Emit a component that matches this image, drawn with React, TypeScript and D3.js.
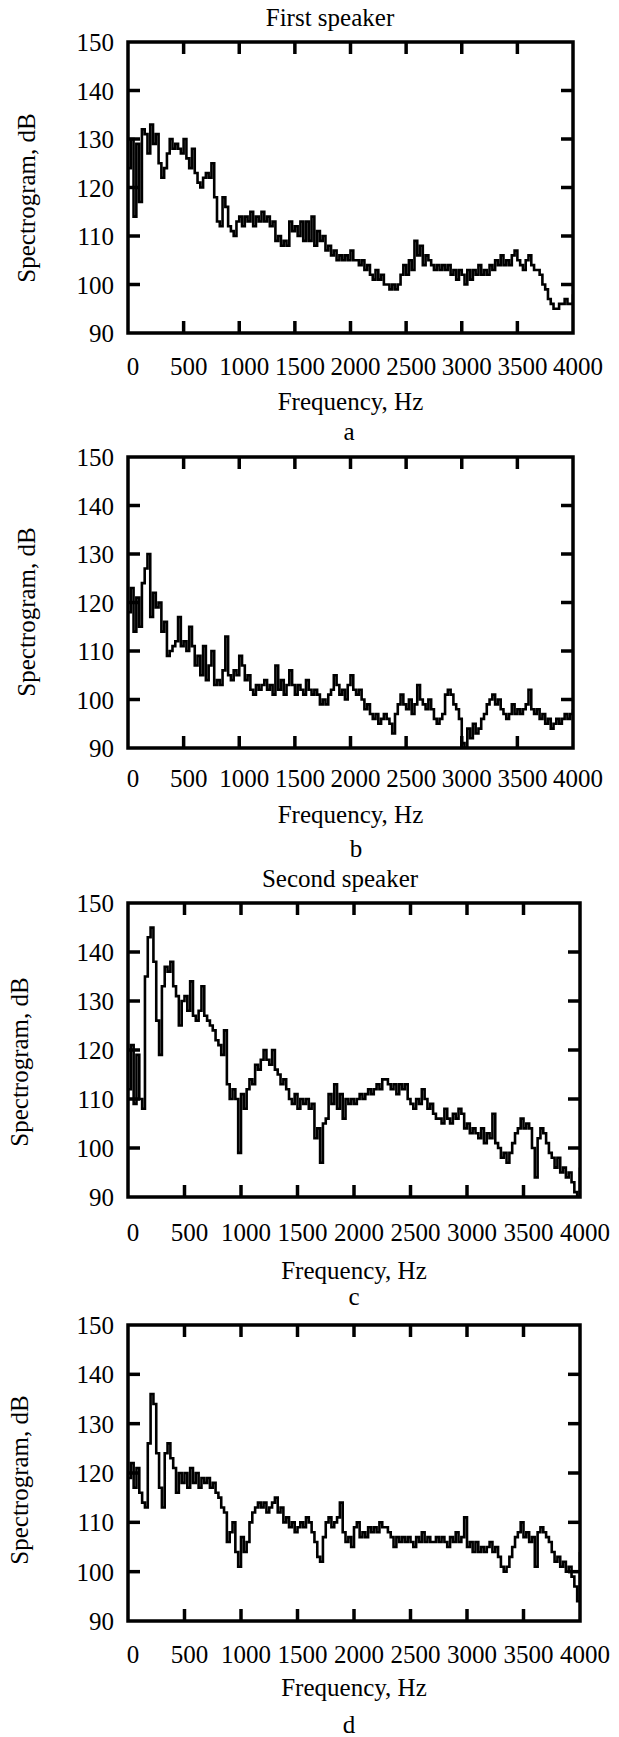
import React from "react";
import * as d3 from "d3";

// ---------- data ----------
const FREQ_STEP = 25; // Hz between successive spectrum samples (0..4000)
const X_TICKS = [0, 500, 1000, 1500, 2000, 2500, 3000, 3500, 4000];
const Y_TICKS = [90, 100, 110, 120, 130, 140, 150];
const X_LABEL = "Frequency, Hz";
const Y_LABEL = "Spectrogram, dB";
const SPEAKER_TITLES = ["First speaker", "Second speaker"];
const PANEL_LETTERS = ["a", "b", "c", "d"];

// panel a (first speaker)
const SERIES_A = [
  124, 130, 114, 129, 117, 132, 131, 127,
  133, 129, 131, 125, 122, 124, 127, 130,
  128, 129, 128, 127, 130, 126, 124, 128,
  123, 121, 120, 122, 123, 122, 125, 118,
  113, 112, 118, 116, 112, 111, 110, 113,
  114, 112, 114, 113, 115, 112, 114, 113,
  115, 113, 114, 112, 113, 109, 110, 108,
  109, 108, 113, 111, 112, 110, 113, 109,
  113, 109, 114, 108, 111, 109, 110, 107,
  108, 106, 107, 105, 106, 105, 106, 105,
  107, 105, 105, 104, 105, 103, 104, 102,
  101, 103, 101, 102, 100, 100, 99, 100,
  99, 100, 102, 104, 102, 105, 103, 109,
  106, 108, 104, 106, 105, 104, 103, 104,
  103, 104, 103, 104, 102, 103, 101, 103,
  102, 100, 103, 101, 103, 102, 104, 102,
  103, 102, 104, 103, 105, 104, 106, 104,
  105, 104, 106, 107, 105, 104, 103, 105,
  106, 104, 103, 103, 102, 100, 99, 97,
  96, 95, 95, 96, 96, 97, 96, 96,
  98,
];

// panel b (first speaker)
const SERIES_B = [
  118, 123, 114, 121, 115, 124, 127, 130,
  117, 122, 119, 120, 114, 116, 109, 110,
  111, 112, 117, 111, 112, 110, 115, 111,
  107, 109, 105, 111, 104, 107, 110, 103,
  104, 103, 106, 113, 105, 104, 106, 105,
  109, 107, 104, 105, 102, 101, 103, 102,
  103, 104, 102, 103, 101, 107, 102, 104,
  101, 103, 106, 103, 101, 103, 102, 101,
  104, 102, 101, 102, 101, 99, 100, 99,
  101, 102, 105, 103, 101, 102, 100, 103,
  105, 102, 101, 102, 100, 98, 99, 97,
  96, 97, 95, 96, 97, 96, 95, 93,
  97, 99, 101, 99, 98, 100, 97, 99,
  103, 100, 99, 98, 100, 98, 96, 95,
  96, 97, 101, 102, 101, 99, 98, 96,
  91, 90, 94, 92, 95, 93, 94, 96,
  97, 99, 100, 101, 99, 100, 98, 97,
  96, 97, 99, 97, 98, 97, 98, 99,
  102, 98, 97, 98, 96, 97, 95, 96,
  94, 95, 96, 95, 96, 97, 96, 97,
  98,
];

// panel c (second speaker)
const SERIES_C = [
  112, 121, 109, 119, 110, 108, 135, 143,
  145, 138, 126, 119, 133, 137, 136, 138,
  133, 131, 125, 130, 131, 128, 134, 127,
  126, 128, 133, 127, 126, 125, 124, 122,
  121, 119, 124, 113, 110, 112, 110, 99,
  111, 108, 112, 114, 113, 117, 116, 118,
  120, 118, 117, 120, 116, 115, 113, 114,
  112, 110, 109, 111, 108, 110, 109, 110,
  108, 109, 102, 104, 97, 105, 106, 111,
  109, 113, 108, 111, 106, 110, 109, 110,
  109, 110, 111, 110, 111, 112, 111, 112,
  113, 112, 114, 114, 113, 112, 113, 111,
  113, 112, 113, 110, 109, 108, 110, 109,
  112, 110, 108, 109, 107, 106, 106, 105,
  108, 106, 105, 107, 106, 108, 107, 104,
  105, 103, 104, 103, 102, 104, 101, 103,
  102, 107, 101, 100, 98, 99, 97, 99,
  101, 103, 104, 106, 104, 105, 104, 100,
  94, 102, 104, 103, 101, 99, 98, 96,
  98, 95, 96, 94, 95, 93, 91, 90,
  96,
];

// panel d (second speaker)
const SERIES_D = [
  119, 122, 117, 121, 116, 114, 113, 126,
  136, 134, 124, 117, 113, 124, 126, 123,
  121, 116, 120, 118, 120, 117, 121, 118,
  120, 117, 119, 118, 119, 117, 118, 116,
  115, 113, 112, 106, 108, 110, 104, 101,
  107, 104, 106, 110, 112, 113, 114, 113,
  114, 112, 113, 114, 115, 112, 113, 110,
  111, 109, 110, 108, 109, 110, 109, 111,
  110, 108, 106, 103, 102, 107, 110, 111,
  109, 110, 111, 114, 108, 106, 107, 105,
  109, 110, 107, 108, 107, 109, 108, 109,
  108, 110, 109, 109, 108, 107, 105, 107,
  106, 107, 106, 107, 106, 105, 107, 106,
  108, 106, 107, 106, 106, 107, 106, 107,
  106, 105, 107, 106, 108, 106, 107, 111,
  105, 106, 104, 106, 104, 105, 104, 105,
  106, 104, 105, 103, 101, 100, 101, 103,
  105, 107, 108, 110, 107, 108, 106, 107,
  101, 108, 109, 108, 107, 106, 104, 102,
  103, 101, 102, 100, 101, 99, 97, 94,
  104,
];

// ---------- layout ----------
type PanelSpec = {
  id: string;
  letter: string;
  title?: string;
  data: number[];
  x0: number; x1: number; y0: number; y1: number;
  titleX?: number; titleY?: number;
  tickY: number; xlabY: number;
  letterX: number; letterY: number;
  ylabX: number; ylabY: number;
};

const PANELS: PanelSpec[] = [
  { id: "a", letter: PANEL_LETTERS[0], title: SPEAKER_TITLES[0], data: SERIES_A,
    x0: 128, x1: 573, y0: 42, y1: 333, titleX: 330, titleY: 26,
    tickY: 375, xlabY: 410, letterX: 349, letterY: 440, ylabX: 35, ylabY: 198 },
  { id: "b", letter: PANEL_LETTERS[1], data: SERIES_B,
    x0: 128, x1: 573, y0: 457, y1: 748,
    tickY: 787, xlabY: 823, letterX: 356, letterY: 857, ylabX: 35, ylabY: 612 },
  { id: "c", letter: PANEL_LETTERS[2], title: SPEAKER_TITLES[1], data: SERIES_C,
    x0: 128, x1: 580, y0: 903, y1: 1197, titleX: 340, titleY: 887,
    tickY: 1241, xlabY: 1279, letterX: 354, letterY: 1305, ylabX: 28, ylabY: 1062 },
  { id: "d", letter: PANEL_LETTERS[3], data: SERIES_D,
    x0: 128, x1: 580, y0: 1325, y1: 1621,
    tickY: 1663, xlabY: 1696, letterX: 349, letterY: 1733, ylabX: 28, ylabY: 1480 },
];

const FONT = "Liberation Serif";
const FS = 25;
const TICK = 12;
const FRAME_W = 3.5;

function Panel({ p }: { p: PanelSpec }) {
  const x = d3.scaleLinear().domain([0, 4000]).range([p.x0, p.x1]);
  const y = d3.scaleLinear().domain([90, 150]).range([p.y1, p.y0]);
  const line = d3
    .line<number>()
    .x((_, i) => x(i * FREQ_STEP))
    .y((d) => y(d))
    .curve(d3.curveStepAfter);
  const clipId = `clip-${p.id}`;
  const innerX = X_TICKS.filter((t) => t > 0 && t < 4000);
  const innerY = Y_TICKS.filter((t) => t > 90 && t < 150);
  const cx = (p.x0 + p.x1) / 2;
  const txt = { fontFamily: FONT, fontSize: FS } as React.CSSProperties;
  return (
    <g>
      <defs>
        <clipPath id={clipId}>
          <rect x={p.x0} y={p.y0} width={p.x1 - p.x0} height={p.y1 - p.y0} />
        </clipPath>
      </defs>
      {p.title && (
        <text x={p.titleX} y={p.titleY} textAnchor="middle" style={txt}>
          {p.title}
        </text>
      )}
      <path
        d={line(p.data) || ""}
        fill="none"
        stroke="#000"
        strokeWidth={2.6}
        strokeLinejoin="miter"
        clipPath={`url(#${clipId})`}
      />
      {innerX.map((t) => (
        <g key={`xt${t}`} stroke="#000" strokeWidth={3.5}>
          <line x1={x(t)} x2={x(t)} y1={p.y1} y2={p.y1 - TICK} />
          <line x1={x(t)} x2={x(t)} y1={p.y0} y2={p.y0 + TICK} />
        </g>
      ))}
      {innerY.map((t) => (
        <g key={`yt${t}`} stroke="#000" strokeWidth={3.5}>
          <line x1={p.x0} x2={p.x0 + TICK} y1={y(t)} y2={y(t)} />
          <line x1={p.x1} x2={p.x1 - TICK} y1={y(t)} y2={y(t)} />
        </g>
      ))}
      <rect
        x={p.x0}
        y={p.y0}
        width={p.x1 - p.x0}
        height={p.y1 - p.y0}
        fill="none"
        stroke="#000"
        strokeWidth={FRAME_W}
      />
      {X_TICKS.map((t) => (
        <text key={`xl${t}`} x={x(t) + 5} y={p.tickY} textAnchor="middle" style={txt}>
          {t}
        </text>
      ))}
      {Y_TICKS.map((t) => (
        <text key={`yl${t}`} x={p.x0 - 14} y={y(t) + 9} textAnchor="end" style={txt}>
          {t}
        </text>
      ))}
      <text x={cx} y={p.xlabY} textAnchor="middle" style={txt}>
        {X_LABEL}
      </text>
      <text
        transform={`translate(${p.ylabX},${p.ylabY}) rotate(-90)`}
        textAnchor="middle"
        style={txt}
      >
        {Y_LABEL}
      </text>
      <text x={p.letterX} y={p.letterY} textAnchor="middle" style={txt}>
        {p.letter}
      </text>
    </g>
  );
}

export default function App() {
  return (
    <svg
      width={619}
      height={1737}
      viewBox="0 0 619 1737"
      style={{ position: "absolute", left: 0, top: 0, background: "#fff", display: "block" }}
    >
      <rect x={0} y={0} width={619} height={1737} fill="#fff" />
      {PANELS.map((p) => (
        <Panel key={p.id} p={p} />
      ))}
    </svg>
  );
}
